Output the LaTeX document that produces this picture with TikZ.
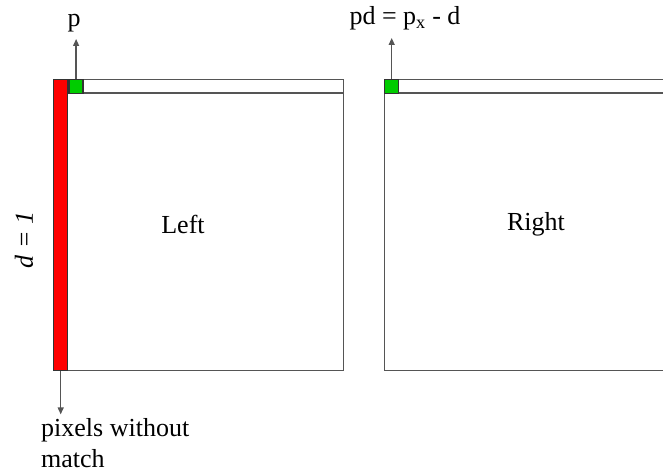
\documentclass[tikz,border=0pt]{standalone}
\usepackage{fontspec}
\setmainfont{Liberation Serif}
\usetikzlibrary{arrows.meta,positioning,calc}
\definecolor{MatchRed}{HTML}{FF0000}
\definecolor{MatchGreen}{HTML}{00CC00}
\definecolor{EdgeGray}{HTML}{555555}
\begin{document}
\begin{tikzpicture}[x=1pt,y=1pt,
  img/.style={draw=EdgeGray,line width=1.4pt,minimum width=290pt,minimum height=291pt,inner sep=0pt,anchor=north west},
  cell/.style={draw=black!80,line width=1.4pt,minimum width=14pt,minimum height=14pt,inner sep=0pt,anchor=north west},
  arr/.style={draw=EdgeGray,line width=1.3pt,-{Triangle[length=7pt,width=6pt]}},
  txt/.style={font=\fontsize{26}{31}\selectfont,inner sep=0pt},
]
\useasboundingbox (0,0) rectangle (663,473);
\clip (0,0) rectangle (663,473);
\node[img] (left) at (53,394) {};
\node[img] (right) at (384,394) {};
\draw[EdgeGray,line width=1.4pt] ([yshift=-14pt]left.north west) -- ([yshift=-14pt]left.north east);
\draw[EdgeGray,line width=1.4pt] ([yshift=-14pt]right.north west) -- ([yshift=-14pt]right.north east);
\node[cell,fill=MatchRed,minimum height=291pt] (miss) at (left.north west) {};
\node[cell,fill=MatchGreen] (p) at (miss.north east) {};
\node[cell,fill=MatchGreen] (pd) at (right.north west) {};
\node[txt] (leftlbl) at (183,249) {Left};
\node[txt] (rightlbl) at (536,249) {Right};
\node[txt,rotate=90] (dlbl) at (24,233) {\textit{d = 1}};
\coordinate (ptip) at ($(p.north)+(0,40)$);
\draw[arr] (p.north) -- (ptip);
\node[txt,anchor=base] (plbl) at (74,446) {p};
\coordinate (pdtip) at ($(pd.north)+(0,41)$);
\draw[arr] (pd.north) -- (pdtip);
\node[txt,anchor=base] (pdlbl) at (405,448) {pd = p\textsubscript{x} - d};
\coordinate (misstip) at ($(miss.south)+(0,-43)$);
\draw[arr] (miss.south) -- (misstip);
\node[txt,anchor=north west,align=left] (misslbl) at (41,55) {pixels without\\match};
\end{tikzpicture}
\end{document}
